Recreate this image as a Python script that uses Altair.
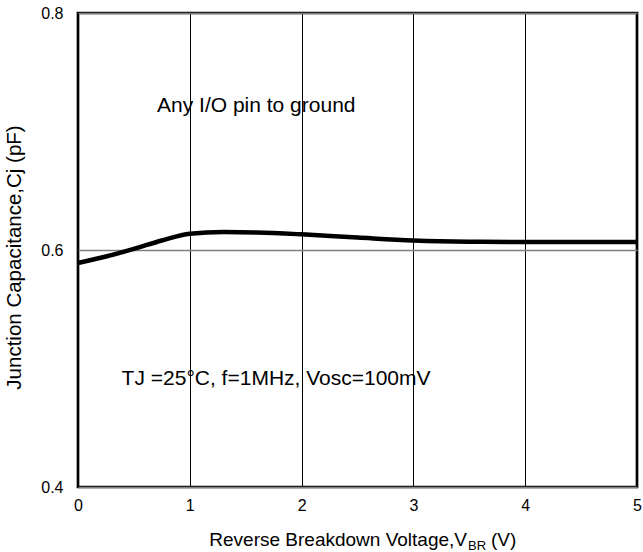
import altair as alt
import pandas as pd

# Data
voltage = [0, 0.25, 0.5, 0.75, 1.0, 1.3, 1.6, 2.0, 2.5, 3.0, 3.5, 4.0, 4.5, 5.0]
capacitance = [0.589, 0.5945, 0.601, 0.608, 0.6138, 0.6152, 0.6148, 0.6132,
               0.6105, 0.608, 0.607, 0.6068, 0.6068, 0.6068]
x_ticks = [0, 1, 2, 3, 4, 5]
y_ticks = [0.4, 0.6, 0.8]
notes = ["Any I/O pin to ground", "TJ =25°C, f=1MHz, Vosc=100mV"]
note_x = [0.707, 0.39]
note_y = [0.7165, 0.486]

FONT = "Liberation Sans"
W, H = 559, 474

df = pd.DataFrame({"v": voltage, "c": capacitance})
notes_df = pd.DataFrame({"t": notes, "x": note_x, "y": note_y})

xs = alt.Scale(domain=[0, 5], nice=False, zero=False)
ys = alt.Scale(domain=[0.4, 0.8], nice=False, zero=False)

xaxis = alt.Axis(values=x_ticks, format="d", title=None, tickSize=0,
                 labelFontSize=16, labelFont=FONT, labelColor="black",
                 labelPadding=10, domain=False, grid=True,
                 gridColor="black", gridWidth=1, labelFlush=False)
yaxis = alt.Axis(values=y_ticks, format=".1f", title="Junction Capacitance,Cj (pF)",
                 tickSize=0, labelFontSize=16, labelFont=FONT, labelColor="black",
                 labelPadding=15, domain=False, grid=True, gridColor="#808080",
                 gridWidth=1.5, titleFont=FONT, titleFontSize=20.5,
                 titleFontWeight="normal", titleColor="black",
                 titleX=-64, titleY=244, titleAngle=270,
                 titleAlign="center", titleBaseline="middle")

line = alt.Chart(df).mark_line(color="black", strokeWidth=4.5,
                               interpolate="monotone").encode(
    x=alt.X("v:Q", scale=xs, axis=xaxis),
    y=alt.Y("c:Q", scale=ys, axis=yaxis),
)

text = alt.Chart(notes_df).mark_text(align="left", baseline="alphabetic",
                                     font=FONT, fontSize=21, color="black").encode(
    x=alt.X("x:Q", scale=xs),
    y=alt.Y("y:Q", scale=ys),
    text="t:N",
)

# x-axis title with subscript
t_main = alt.Chart(pd.DataFrame({"t": ["Reverse Breakdown Voltage,V"]})).mark_text(
    align="right", baseline="alphabetic", font=FONT, fontSize=19, color="black"
).encode(x=alt.value(389), y=alt.value(533), text="t:N")
t_sub = alt.Chart(pd.DataFrame({"t": ["BR"]})).mark_text(
    align="left", baseline="alphabetic", font=FONT, fontSize=13, color="black"
).encode(x=alt.value(390), y=alt.value(537), text="t:N")
t_unit = alt.Chart(pd.DataFrame({"t": ["(V)"]})).mark_text(
    align="left", baseline="alphabetic", font=FONT, fontSize=19, color="black"
).encode(x=alt.value(413), y=alt.value(533), text="t:N")

chart = alt.layer(line, text, t_main, t_sub, t_unit).properties(
    width=W, height=H,
    autosize="none",
    padding={"left": 78, "top": 13, "right": 6, "bottom": 65},
    background="white",
).configure_view(stroke="black", strokeWidth=2.7)

chart.save("out.html", embed_options={"renderer": "svg", "actions": False})
